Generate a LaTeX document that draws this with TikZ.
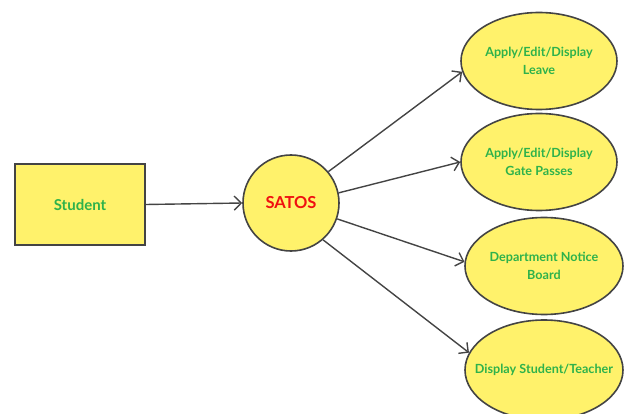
\documentclass[tikz,border=0pt]{standalone}
\usepackage{fontspec}
\setmainfont{Lato}
\usetikzlibrary{shapes.geometric,arrows.meta}
\definecolor{fillY}{HTML}{FFF26B}
\definecolor{txtG}{HTML}{2EB24B}
\definecolor{txtR}{HTML}{F01010}
\definecolor{lineC}{HTML}{444444}
\begin{document}
\begin{tikzpicture}[x=1pt,y=-1pt,
  box/.style={draw=lineC,line width=1.6pt,fill=fillY,minimum width=130pt,minimum height=81pt,inner sep=0pt},
  hub/.style={circle,draw=lineC,line width=1.6pt,fill=fillY,minimum size=96pt,inner sep=0pt},
  usecase/.style={ellipse,draw=lineC,line width=1.6pt,fill=fillY,minimum width=156pt,minimum height=97pt,inner sep=0pt,align=center,text=txtG,font=\bfseries\fontsize{12.6}{18}\selectfont},
  conn/.style={draw=lineC,line width=1.4pt,-{Straight Barb[length=7pt,width=14pt]}}]
\useasboundingbox (0,0) rectangle (624,414);
\node[box,text=txtG,font=\bfseries\fontsize{15}{18}\selectfont] (student) at (80,204.5) {Student};
\node[hub,text=txtR,font=\bfseries\fontsize{16.5}{19}\selectfont] (satos) at (291,203) {SATOS};
\node[usecase,inner xsep=-20pt] (leave) at (539,61) {Apply/Edit/Display\\Leave};
\node[usecase,inner xsep=-20pt] (gate) at (539,162) {Apply/Edit/Display\\Gate Passes};
\node[usecase,inner xsep=-20pt,minimum width=158pt] (notice) at (544,266) {Department Notice\\Board};
\node[usecase,inner xsep=-30pt,minimum width=158pt,minimum height=100pt] (disp) at (544,370) {Display Student/Teacher};
\draw[conn] (student.east) -- (satos.west);
\draw[conn] (satos.40) -- (leave.188);
\draw[conn] (satos.12) -- (gate.180);
\draw[conn] (satos.-19) -- (notice.177);
\draw[conn] (satos.-49) -- (disp.167);
\end{tikzpicture}
\end{document}
